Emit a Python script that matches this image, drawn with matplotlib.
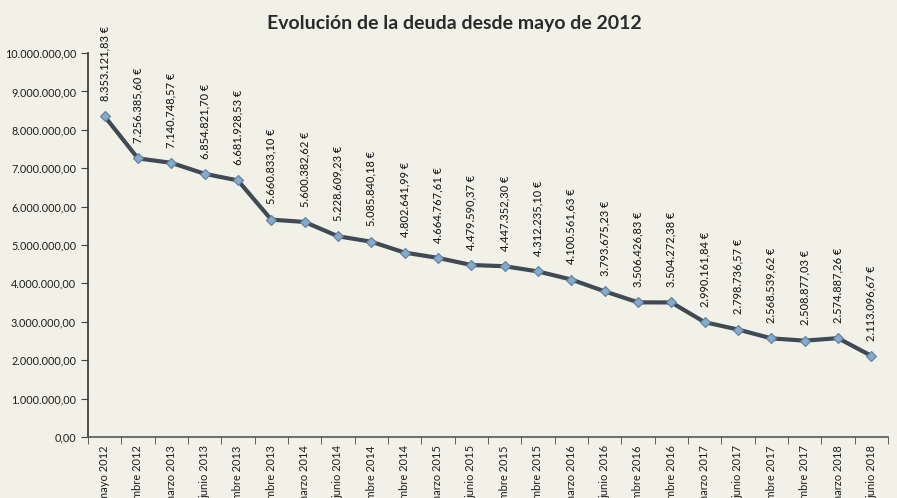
import matplotlib
matplotlib.use("Agg")
import matplotlib.pyplot as plt
from matplotlib.ticker import FuncFormatter, MultipleLocator, FixedLocator

# periods (labels are clipped at the bottom in the original)
periodos = ["mayo 2012", "diciembre 2012", "marzo 2013", "junio 2013", "septiembre 2013",
            "diciembre 2013", "marzo 2014", "junio 2014", "septiembre 2014", "diciembre 2014",
            "marzo 2015", "junio 2015", "septiembre 2015", "diciembre 2015", "marzo 2016",
            "junio 2016", "septiembre 2016", "diciembre 2016", "marzo 2017", "junio 2017",
            "septiembre 2017", "diciembre 2017", "marzo 2018", "junio 2018"]

deuda = [8353121.83, 7256385.60, 7140748.57, 6854821.70, 6681928.53,
         5660833.10, 5600382.62, 5228609.23, 5085840.18, 4802641.99,
         4664767.61, 4479590.37, 4447352.30, 4312235.10, 4100561.63,
         3793675.23, 3506426.83, 3504272.38, 2990161.84, 2798736.57,
         2568539.62, 2508877.03, 2574887.26, 2113096.67]

titulo = "Evolución de la deuda desde mayo de 2012"


def es_num(v, dec=2):
    # spanish format: 1.234.567,89
    s = f"{v:,.{dec}f}"
    return s.replace(",", "X").replace(".", ",").replace("X", ".")


plt.rcParams['font.family'] = ['Lato', 'DejaVu Sans']
bg = '#f2f1e8'

fig = plt.figure(figsize=(8.97, 4.98), dpi=100, facecolor=bg)
ax = fig.add_axes([0.098, 0.1225, 0.892, 0.771])
ax.set_facecolor(bg)

x = list(range(len(periodos)))
ax.plot(x, deuda, color='#3f4a55', lw=3.0, zorder=2)
ax.plot(x, deuda, ls='none', marker='D', ms=5.5, mfc='#86aacb', mec='#5f7f9c',
        mew=0.8, zorder=3)

for xi, v in zip(x, deuda):
    ax.annotate(es_num(v) + " €", (xi, v), xytext=(0, 11), textcoords='offset points',
                rotation=90, ha='center', va='bottom', fontsize=8, color='#1e1e1e',
                fontweight='medium')

ax.set_xlim(-0.5, len(periodos) - 0.5)
ax.set_ylim(0, 10000000)
ax.yaxis.set_major_locator(MultipleLocator(1000000))
ax.yaxis.set_major_formatter(FuncFormatter(lambda v, p: es_num(v)))

ax.set_xticks(x)
ax.set_xticklabels(periodos, rotation=90, fontsize=8, color='#1e1e1e')
ax.xaxis.set_minor_locator(FixedLocator([i - 0.5 for i in range(len(periodos) + 1)]))
ax.tick_params(axis='x', which='major', length=0, pad=6)
ax.tick_params(axis='x', which='minor', length=5, color='#444444', direction='out')
ax.tick_params(axis='y', length=5, color='#444444', labelsize=7.8, labelcolor='#1e1e1e')

for s in ['top', 'right']:
    ax.spines[s].set_visible(False)
ax.spines['left'].set_color('#333333')
ax.spines['bottom'].set_color('#555555')
ax.spines['left'].set_linewidth(1.2)
ax.spines['bottom'].set_linewidth(1.2)

fig.text(0.507, 0.953, titulo, ha='center', va='center', fontsize=14,
         fontweight='bold', color='#2a2a2a')

fig.savefig("out.png", dpi=100, facecolor=bg)
